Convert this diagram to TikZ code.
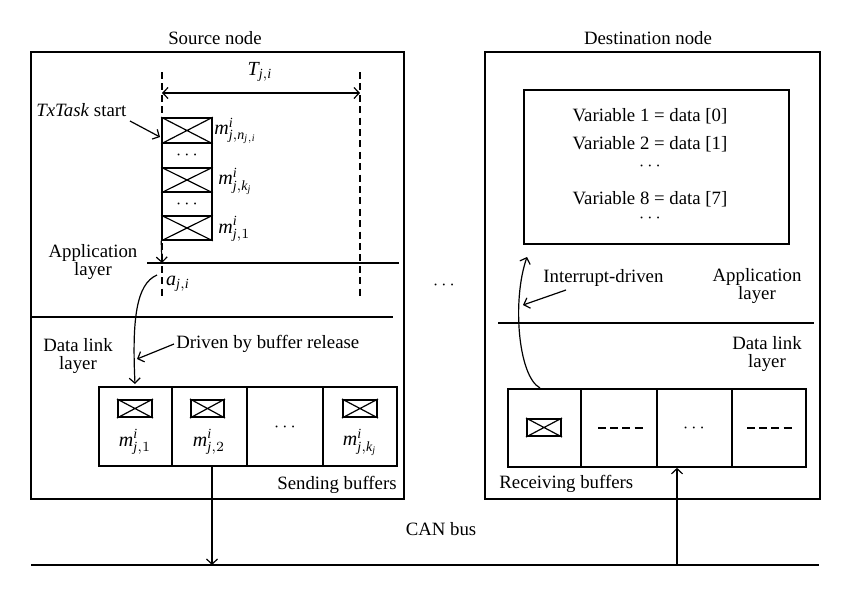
\documentclass[tikz,border=0pt]{standalone}
\usepackage{fontspec}
\setmainfont{Liberation Serif}
\usetikzlibrary{arrows.meta,fit}
\newcommand\mv[1]{\mathit{#1}}
\newcommand\mlab[1]{$\mv{m}^{\mv{i}}_{#1}$}
\tikzset{
 box/.style={draw, line width=0.8pt, inner sep=0pt},
 cell/.style={draw, line width=0.8pt, inner sep=0pt},
 lbl/.style={inner sep=1pt, font=\fontsize{9.4}{11}\selectfont, align=center},
 mlbl/.style={inner sep=0pt, font=\fontsize{10}{12}\selectfont},
 arr/.style={-{Straight Barb[length=2.6pt,width=5.5pt]}, line width=0.6pt},
 dsh/.style={line width=0.8pt, dash pattern=on 3.5pt off 2.2pt},
 thin line/.style={line width=0.8pt},
 xcross/.style={line width=0.6pt},
 dots/.style={inner sep=0pt, font=\fontsize{9.4}{11}\selectfont},
}
\begin{document}
\begin{tikzpicture}[x=0.5pt,y=-0.5pt]
\useasboundingbox (0,0) rectangle (850,596);
% ---------- Source node ----------
\node[lbl] (srct) at (215,38) {Source node};
\node[box, fit={(31,52)(404,499)}] (src) {};
\coordinate (dl1) at (162,72); \coordinate (dl2) at (162,296);
\coordinate (dr1) at (360,72); \coordinate (dr2) at (360,296);
\draw[dsh] (dl1) -- (dl2);
\draw[dsh] (dr1) -- (dr2);
\coordinate (ta) at (162,93); \coordinate (tb) at (360,93);
\draw[{Straight Barb[length=2.6pt,width=5.5pt]}-{Straight Barb[length=2.6pt,width=5.5pt]}, line width=0.6pt] (ta) -- (tb);
\node[mlbl] (tji) at (260,72) {$\mv{T}_{\mv{j},\mv{i}}$};
% stack
\node[cell, fit={(162,118)(212,143)}] (s1) {};
\node[cell, fit={(162,143)(212,168)}] (s2) {};
\node[cell, fit={(162,168)(212,192)}] (s3) {};
\node[cell, fit={(162,192)(212,216)}] (s4) {};
\node[cell, fit={(162,216)(212,240)}] (s5) {};
\foreach \c in {s1,s3,s5}{
  \draw[xcross] (\c.north west) -- (\c.south east) (\c.south west) -- (\c.north east);
}
\node[dots] (s2d) at (s2.center) {$\cdots$};
\node[dots] (s4d) at (s4.center) {$\cdots$};
\node[mlbl, anchor=west] (m1) at (214,131) {\mlab{\mv{j},\mv{n}_{\mv{j},\mv{i}}}};
\node[mlbl, anchor=west] (m2) at (218,181) {\mlab{\mv{j},\mv{k}_{\mv{j}}}};
\node[mlbl, anchor=west] (m3) at (218,229) {\mlab{\mv{j},1}};
\node[lbl, anchor=west] (txs) at (34,110) {\textit{TxTask} start};
\coordinate (txa) at (130,121);
\coordinate (txe) at (160,137);
\draw[arr] (txa) -- (txe);
\coordinate (stb) at (162,263);
\draw[arr] (s5.south west) -- (stb);
\coordinate (al1) at (147,263); \coordinate (al2) at (399,263);
\draw[thin line] (al1) -- (al2);
\node[lbl] (appl) at (93,262) {Application\\[-2pt]layer};
\node[mlbl] (aji) at (178,284) {$\mv{a}_{\mv{j},\mv{i}}$};
\coordinate (dll1) at (31,317); \coordinate (dll2) at (393,317);
\draw[thin line] (dll1) -- (dll2);
\node[lbl] (dlt) at (78,356) {Data link\\[-2pt]layer};
% sending buffers
\node[cell, fit={(99,387)(172,466)}] (b1) {};
\node[cell, fit={(172,387)(247,466)}] (b2) {};
\node[cell, fit={(247,387)(323,466)}] (b3) {};
\node[cell, fit={(323,387)(397,466)}] (b4) {};
\node[cell, line width=1pt, fit={(118,400)(152,417)}] (x1) {};
\node[cell, line width=1pt, fit={(191,400)(224,417)}] (x2) {};
\node[cell, line width=1pt, fit={(343,400)(377,417)}] (x4) {};
\foreach \c in {x1,x2,x4}{
  \draw[xcross] (\c.north west) -- (\c.south east) (\c.south west) -- (\c.north east);
}
\node[mlbl] (bm1) at (135,442) {\mlab{\mv{j},1}};
\node[mlbl] (bm2) at (209,442) {\mlab{\mv{j},2}};
\node[dots] (bm3) at (285,427) {$\cdots$};
\node[mlbl] (bm4) at (360,442) {\mlab{\mv{j},\mv{k}_{\mv{j}}}};
\node[lbl, anchor=east] (sbt) at (399,485) {Sending buffers};
\coordinate (ca) at (157,275);
\coordinate (cb) at (135,384);
\draw[arr] (ca) .. controls (136,284) and (132,320) .. (cb);
\node[lbl, anchor=west] (drv) at (174,344) {Driven by buffer release};
\coordinate (drve) at (137,359);
\draw[arr] (drv.west) -- (drve);
% ---------- middle dots ----------
\node[dots] (mid) at (444,285) {$\cdots$};
% ---------- Destination node ----------
\node[lbl] (dstt) at (648,38) {Destination node};
\node[box, fit={(485,52)(820,499)}] (dst) {};
\node[cell, fit={(524,90)(789,244)}] (vars) {};
\node[lbl] (v1) at (650,116) {Variable 1 = data [0]};
\node[lbl] (v2) at (650,144) {Variable 2 = data [1]};
\node[dots] (v3) at (650,166) {$\cdots$};
\node[lbl] (v4) at (650,199) {Variable 8 = data [7]};
\node[dots] (v5) at (650,218) {$\cdots$};
\node[lbl] (dapp) at (757,286) {Application\\[-2pt]layer};
\coordinate (dal1) at (498,323); \coordinate (dal2) at (814,323);
\draw[thin line] (dal1) -- (dal2);
\node[lbl] (ddl) at (767,354) {Data link\\[-2pt]layer};
\node[cell, fit={(508,389)(581,467)}] (r1) {};
\node[cell, fit={(581,389)(657,467)}] (r2) {};
\node[cell, fit={(657,389)(732,467)}] (r3) {};
\node[cell, fit={(732,389)(806,467)}] (r4) {};
\node[cell, line width=1pt, fit={(527,419)(561,436)}] (rx) {};
\draw[xcross] (rx.north west) -- (rx.south east) (rx.south west) -- (rx.north east);
\coordinate (r2a) at (598,428); \coordinate (r2b) at (644,428);
\draw[line width=0.7pt, dash pattern=on 4pt off 2.1pt] (r2a) -- (r2b);
\node[dots] (r3d) at (694,428) {$\cdots$};
\coordinate (r4a) at (747,428); \coordinate (r4b) at (793,428);
\draw[line width=0.7pt, dash pattern=on 4pt off 2.1pt] (r4a) -- (r4b);
\node[lbl, anchor=west] (rbt) at (497,484) {Receiving buffers};
\coordinate (ia) at (540,388);
\coordinate (ib) at (527,257);
\draw[arr] (ia) .. controls (518,376) and (512,300) .. (ib);
\node[lbl, anchor=west] (intr) at (541,278) {Interrupt-driven};
\coordinate (intra) at (566,290);
\coordinate (intre) at (523,305);
\draw[arr] (intra) -- (intre);
% ---------- CAN bus ----------
\coordinate (bus1) at (31,565); \coordinate (bus2) at (819,565);
\draw[thin line] (bus1) -- (bus2);
\node[lbl] (can) at (441,529) {CAN bus};
\coordinate (sbus) at (212,565);
\draw[arr] (b2.south east -| sbus) -- (sbus);
\coordinate (rbus) at (677,565);
\draw[arr] (rbus) -- (rbus |- r3.south);
\end{tikzpicture}
\end{document}
